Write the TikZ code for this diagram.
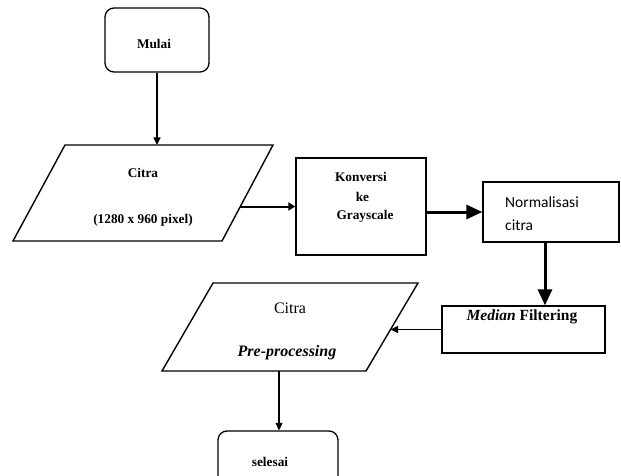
\documentclass[tikz,border=0pt]{standalone}
\usepackage{fontspec}
\setmainfont{Liberation Serif}
\newfontfamily\calibrifont{Carlito}
\usetikzlibrary{arrows.meta}
\begin{document}
\begin{tikzpicture}[x=1pt,y=-1pt]
\tikzset{
  boxline/.style={draw, line width=1.3pt, inner sep=0pt},
  lbl/.style={inner sep=0pt, anchor=center, font=\fontsize{13.3}{15}\selectfont\bfseries},
  thinarrow/.style={line width=1.3pt, -{Triangle[length=7.5pt,width=7pt]}},
  midarrow/.style={line width=2pt, -{Triangle[length=7pt,width=8pt]}},
  thickarrow/.style={line width=3pt, -{Triangle[length=16pt,width=14pt]}},
  paral/.style={draw, line width=1.4pt, line join=miter}
}
\clip (0,0) rectangle (621,476);
\fill[white] (0,0) rectangle (621,476);

% Mulai
\node[boxline, rounded corners=9pt, minimum width=104pt, minimum height=64pt] (mulai) at (157,40) {};
\node[lbl] (tmulai) at (154,44) {Mulai};

% Citra input parallelogram
\draw[paral] (65,145) -- (273,145) -- (222,241) -- (13,241) -- cycle;
\coordinate (p1top) at (157,145);
\coordinate (p1r) at (240.3,206.5);
\node[lbl] (tcitra1) at (143,173) {Citra};
\node[lbl] (tres) at (143,220) {(1280 x 960 pixel)};

% Konversi
\node[boxline, minimum width=130pt, minimum height=97pt] (konv) at (361,206.5) {};
\node[lbl] (tk1) at (361,177) {Konversi};
\node[lbl] (tk2) at (362.5,197) {ke};
\node[lbl] (tk3) at (365,216) {Grayscale};

% Normalisasi
\node[boxline, minimum width=136pt, minimum height=60pt] (norm) at (551,212) {};
\node[anchor=base west, inner sep=0pt, font=\calibrifont\fontsize{15.5}{18}\selectfont] (tn1) at (505,207) {Normalisasi};
\node[anchor=base west, inner sep=0pt, font=\calibrifont\fontsize{15.5}{18}\selectfont] (tn2) at (505,230.5) {citra};

% Median Filtering
\node[boxline, minimum width=163pt, minimum height=47pt] (med) at (523.5,329.5) {};
\node[lbl, font=\fontsize{15.5}{17}\selectfont\bfseries] (tmed) at (522,317) {\textit{Median} Filtering};

% Citra Pre-processing parallelogram
\draw[paral] (213,283) -- (418,283) -- (366,371) -- (162,371) -- cycle;
\coordinate (p2r) at (390.5,329.5);
\coordinate (p2b) at (279,371);
\node[inner sep=0pt, font=\fontsize{16}{18}\selectfont] (tcitra2) at (290,308) {Citra};
\node[inner sep=0pt, font=\fontsize{16}{18}\selectfont\bfseries\itshape] (tpre) at (287,353) {Pre-processing};

% selesai
\node[boxline, rounded corners=9pt, minimum width=120pt, minimum height=56pt] (sel) at (278,459) {};
\node[lbl] (tsel) at (270,462) {selesai};

% connectors
\coordinate (nm) at (545,0);
\draw[thinarrow] (mulai.south) -- (p1top);
\draw[midarrow] (p1r) -- (p1r -| konv.west);
\draw[thickarrow] (konv.east |- norm.west) -- (norm.west);
\draw[thickarrow] (nm |- norm.south) -- (nm |- med.north);
\draw[thinarrow] (med.west) -- (p2r);
\draw[thinarrow] (p2b) -- (p2b |- sel.north);
\end{tikzpicture}
\end{document}
